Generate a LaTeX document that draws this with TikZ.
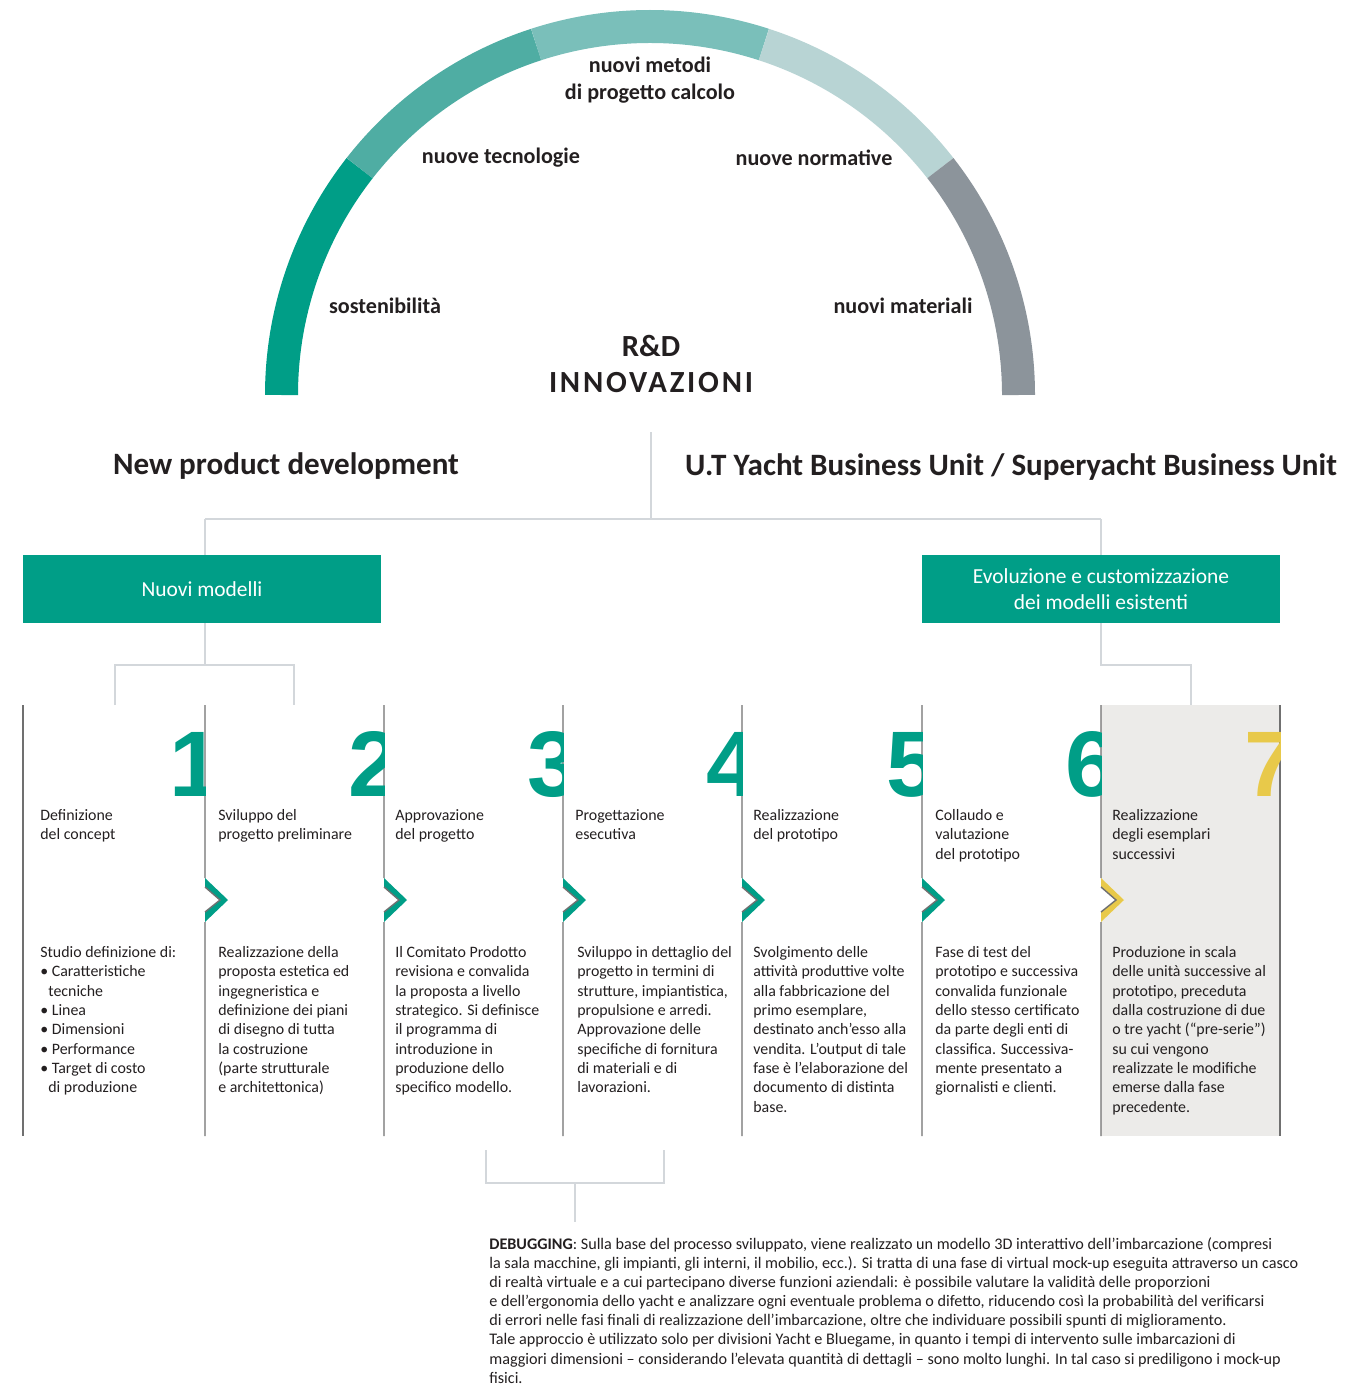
\documentclass[tikz,border=0pt]{standalone}
\usepackage{fontspec}
\setmainfont{Carlito}
\newfontfamily\cifre{Liberation Sans}

\definecolor{verde}{HTML}{009E87}
\definecolor{verdemedio}{HTML}{4FADA3}
\definecolor{verdechiaro}{HTML}{7ABFBA}
\definecolor{verdepallido}{HTML}{B8D4D4}
\definecolor{grigioarco}{HTML}{8C949B}
\definecolor{giallo}{HTML}{E8C94A}
\definecolor{grigiofondo}{HTML}{ECEBE9}
\definecolor{lineacol}{HTML}{707070}
\definecolor{lineacon}{HTML}{D3D7DB}
\definecolor{testo}{HTML}{231F20}

\tikzset{
  arco/.style={line width=0.66cm},
  etichetta/.style={font=\fontsize{12.6}{15}\selectfont\bfseries, text=testo, align=center, inner sep=0},
  intestazione/.style={font=\fontsize{17.7}{22}\selectfont\bfseries, text=testo, inner sep=0},
  modello/.style={fill=verde, text=white, minimum width=7.16cm, minimum height=1.36cm, inner sep=0, align=center, font=\fontsize{12.2}{14.8}\selectfont},
  connettore/.style={draw=lineacon, line width=0.8pt},
  colonna/.style={draw=lineacol, line width=0.8pt},
  fase/.style={anchor=north west, inner sep=0, align=left, text=testo, font=\fontsize{9.05}{11}\selectfont},
  cifra/.style={font=\fontsize{53}{53}\selectfont\cifre\bfseries, inner sep=0, anchor=base east}
}

\begin{document}
\begin{tikzpicture}[x=0.02cm,y=-0.02cm]
\useasboundingbox (0,0) rectangle (1366,1385);

% Arco
\foreach \a/\b/\c in {-180/-142/verde, -142/-108/verdemedio, -108/-72/verdechiaro, -72/-38/verdepallido, -38/0/grigioarco}
  \draw[arco, \c]
  (650,395) ++(\a:368.5)
  arc[start angle=\a, end angle=\b, radius=368.5];

\node[etichetta] (metodi) at (650,80) {nuovi metodi\\di progetto calcolo};
\node[etichetta] (tecnologie) at (501,158) {nuove tecnologie};
\node[etichetta] (normative) at (814,158) {nuove normative};
\node[etichetta] (sostenibilita) at (385,306) {sostenibilità};
\node[etichetta] (materiali) at (903,306) {nuovi materiali};
\node[etichetta, font=\fontsize{17.5}{20.5}\selectfont\bfseries] (rd) at (651,364) {R\&D\\\addfontfeatures{LetterSpace=9}INNOVAZIONI};

% Intestazioni
\node[intestazione] (npd) at (286,466) {New product development};
\node[intestazione] (ut) at (1011,467) {U.T Yacht Business Unit / Superyacht Business Unit};

% Modelli
\node[modello] (nuovi) at (202,589) {Nuovi modelli};
\node[modello] (evoluzione) at (1101,589) {Evoluzione e customizzazione\\dei modelli esistenti};

% Connettori
\coordinate (cima) at (651,432);
\coordinate (snodo) at (651,519);
\coordinate (sx) at (205,519);
\coordinate (dx) at (1101,519);
\draw[connettore] (cima) -- (snodo);
\draw[connettore] (sx) -- (dx);
\draw[connettore] (sx) -- (sx |- nuovi.north);
\draw[connettore] (dx) -- (dx |- evoluzione.north);

\coordinate (ramo1) at (205,665);
\coordinate (f1) at (115,705);
\coordinate (f2) at (294,705);
\draw[connettore] (ramo1 |- nuovi.south) -- (ramo1);
\draw[connettore] (f1) |- (ramo1) -| (f2);

\coordinate (ramo2) at (1101,665);
\coordinate (f7) at (1191,705);
\draw[connettore] (ramo2 |- evoluzione.south) -- (ramo2) -| (f7);

% Colonne
\fill[grigiofondo] (1101,705) rectangle (1280,1136);
\draw[colonna] (23,705) -- (23,1136);
\draw[colonna] (1280,705) -- (1280,1136);
\foreach \x/\c in {205/verde, 384/verde, 563/verde, 742/verde, 922/verde, 1101/giallo}{
  \fill[white] (\x,878) -- (\x+23,900) -- (\x,922) -- cycle;
  \fill[\c] (\x,878) -- (\x+23,900) -- (\x,922) -- (\x,912) -- (\x+15,900) -- (\x,887) -- cycle;
  \draw[colonna] (\x,705) -- (\x,878) (\x,887) -- (\x+15,900) -- (\x,912) (\x,922) -- (\x,1136);
}

% Numeri
\foreach \sx/\dx/\k/\c in {23/205/1/verde, 205/384/2/verde, 384/563/3/verde, 563/742/4/verde, 742/922/5/verde, 922/1101/6/verde, 1101/1280/7/giallo}{
  \begin{scope}
    \clip (\sx,705) rectangle (\dx,800);
    \node[cifra, text=\c] (num\k) at (\dx+17,796) {\k};
  \end{scope}
}

% Fasi
\node[fase] (t1) at (40,809) {Definizione\\del concept};
\node[fase] (t2) at (218,809) {Sviluppo del\\progetto preliminare};
\node[fase] (t3) at (395,809) {Approvazione\\del progetto};
\node[fase] (t4) at (575,809) {Progettazione\\esecutiva};
\node[fase] (t5) at (753,809) {Realizzazione\\del prototipo};
\node[fase] (t6) at (935,809) {Collaudo e\\valutazione\\del prototipo};
\node[fase] (t7) at (1112,809) {Realizzazione\\degli esemplari\\successivi};

\node[fase] (d1) at (40,946) {Studio definizione di:\\• Caratteristiche\\\hspace*{1.6mm}tecniche\\• Linea\\• Dimensioni\\• Performance\\• Target di costo\\\hspace*{1.6mm}di produzione};
\node[fase] (d2) at (218,946) {Realizzazione della\\proposta estetica ed\\ingegneristica e\\definizione dei piani\\di disegno di tutta\\la costruzione\\(parte strutturale\\e architettonica)};
\node[fase] (d3) at (395,946) {Il Comitato Prodotto\\revisiona e convalida\\la proposta a livello\\strategico. Si definisce\\il programma di\\introduzione in\\produzione dello\\specifico modello.};
\node[fase] (d4) at (577,946) {Sviluppo in dettaglio del\\progetto in termini di\\strutture, impiantistica,\\propulsione e arredi.\\Approvazione delle\\specifiche di fornitura\\di materiali e di\\lavorazioni.};
\node[fase] (d5) at (753,946) {Svolgimento delle\\attività produttive volte\\alla fabbricazione del\\primo esemplare,\\destinato anch’esso alla\\vendita. L’output di tale\\fase è l’elaborazione del\\documento di distinta\\base.};
\node[fase] (d6) at (935,946) {Fase di test del\\prototipo e successiva\\convalida funzionale\\dello stesso certificato\\da parte degli enti di\\classifica. Successiva-\\mente presentato a\\giornalisti e clienti.};
\node[fase] (d7) at (1112,946) {Produzione in scala\\delle unità successive al\\prototipo, preceduta\\dalla costruzione di due\\o tre yacht (“pre-serie”)\\su cui vengono\\realizzate le modifiche\\emerse dalla fase\\precedente.};

% Debugging
\coordinate (b1) at (486,1150);
\coordinate (b2) at (664,1150);
\coordinate (ramo3) at (575,1183);
\coordinate (b3) at (575,1222);
\draw[connettore] (b1) |- (ramo3) -| (b2);
\draw[connettore] (ramo3) -- (b3);

\node[fase, font=\fontsize{9.2}{10.9}\selectfont] (debug) at (489,1237) {\textbf{DEBUGGING}: Sulla base del processo sviluppato, viene realizzato un modello 3D interattivo dell’imbarcazione (compresi\\la sala macchine, gli impianti, gli interni, il mobilio, ecc.). Si tratta di una fase di virtual mock-up eseguita attraverso un casco\\di realtà virtuale e a cui partecipano diverse funzioni aziendali: è possibile valutare la validità delle proporzioni\\e dell’ergonomia dello yacht e analizzare ogni eventuale problema o difetto, riducendo così la probabilità del verificarsi\\di errori nelle fasi finali di realizzazione dell’imbarcazione, oltre che individuare possibili spunti di miglioramento.\\Tale approccio è utilizzato solo per divisioni Yacht e Bluegame, in quanto i tempi di intervento sulle imbarcazioni di\\maggiori dimensioni – considerando l’elevata quantità di dettagli – sono molto lunghi. In tal caso si prediligono i mock-up\\fisici.};

\end{tikzpicture}
\end{document}
